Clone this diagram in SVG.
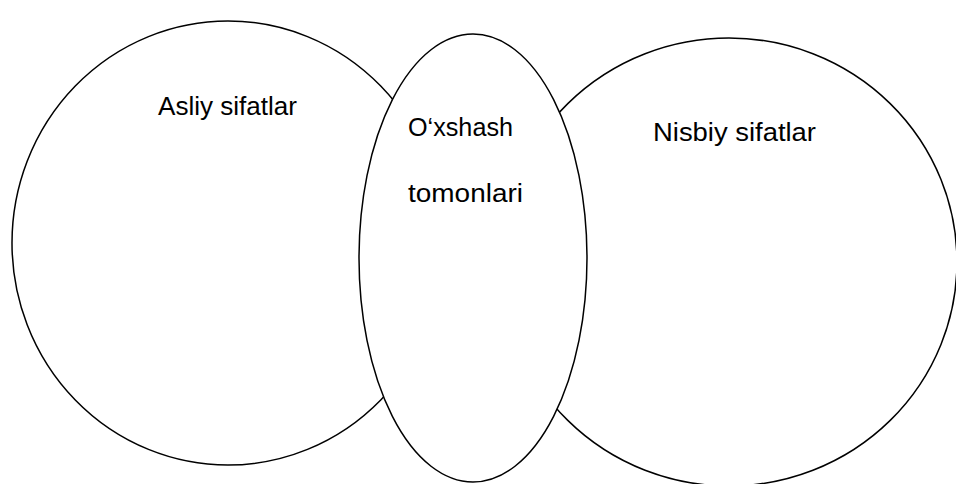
<svg xmlns="http://www.w3.org/2000/svg" width="956" height="484" viewBox="0 0 956 484">
<style>
.shape{fill:none;stroke:#000;stroke-width:1.5}
.lbl{font-family:"Liberation Sans",Arial,sans-serif;font-size:26px;fill:#000}
</style>
<rect width="956" height="484" fill="#fff"/>
<g id="node-asliy">
<ellipse class="shape" cx="228" cy="243" rx="216" ry="222"/>
<text class="lbl" x="158" y="115" textLength="139" lengthAdjust="spacingAndGlyphs">Asliy sifatlar</text>
</g>
<g id="node-nisbiy">
<ellipse class="shape" cx="729" cy="262" rx="228" ry="224"/>
<text class="lbl" x="653" y="141" textLength="163" lengthAdjust="spacingAndGlyphs">Nisbiy sifatlar</text>
</g>
<g id="node-oxshash">
<ellipse cx="473" cy="258" rx="114" ry="224" fill="#fff" stroke="#000" stroke-width="1.5"/>
<text class="lbl" x="408" y="136" textLength="105" lengthAdjust="spacingAndGlyphs">O‘xshash</text>
<text class="lbl" x="408" y="202" textLength="115" lengthAdjust="spacingAndGlyphs">tomonlari</text>
</g>
<g id="connectors"></g>
</svg>
